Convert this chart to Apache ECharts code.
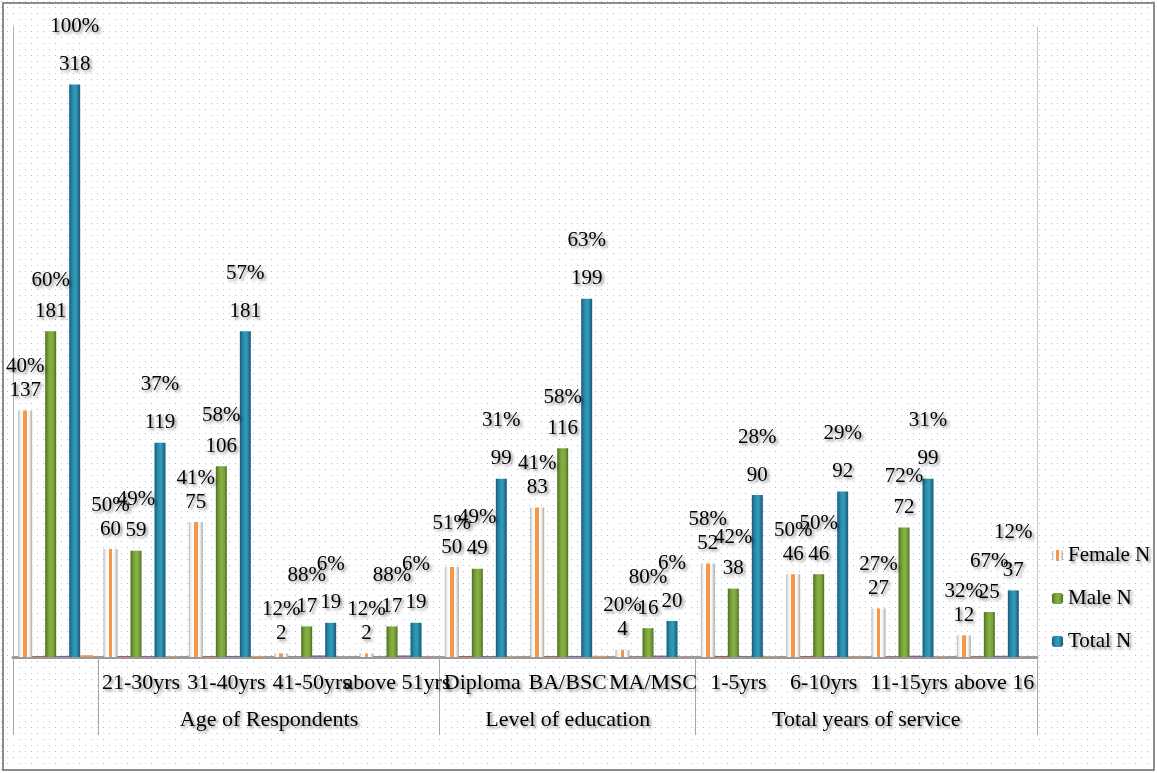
<!DOCTYPE html>
<html>
<head>
<meta charset="utf-8">
<title>Respondents by age, education and service</title>
<script src="https://cdn.jsdelivr.net/npm/echarts@6/dist/echarts.min.js"></script>
<style>
  html, body { margin: 0; padding: 0; background: #ffffff; }
  #chart { width: 1157px; height: 773px; }
</style>
</head>
<body>
<div id="chart"></div>
<script>
// Category labels (first column is the overall total)
const categories = ['', '21-30yrs', '31-40yrs', '41-50yrs', 'above 51yrs',
  'Diploma', 'BA/BSC', 'MA/MSC', '1-5yrs', '6-10yrs', '11-15yrs', 'above 16'];

// Counts per category
const femaleN = [137, 60, 75, 2, 2, 50, 83, 4, 52, 46, 27, 12];
const maleN   = [181, 59, 106, 17, 17, 49, 116, 16, 38, 46, 72, 25];
const totalN  = [318, 119, 181, 19, 19, 99, 199, 20, 90, 92, 99, 37];

// Shares in percent
const femalePct = [40, 50, 41, 12, 12, 51, 41, 20, 58, 50, 27, 32];
const malePct   = [60, 49, 58, 88, 88, 49, 58, 80, 42, 50, 72, 67];
const totalPct  = [100, 37, 57, 6, 6, 31, 63, 6, 28, 29, 31, 12];

// Grouping of the categories along the axis
const groupNames = ['Age of Respondents', 'Level of education', 'Total years of service'];
const groupStart = [1, 5, 8];
const groupEnd   = [5, 8, 12];

const FONT = 'Liberation Serif, Tinos, DejaVu Serif, serif';
const shadow = {
  textShadowColor: 'rgba(0,0,0,0.45)',
  textShadowBlur: 3,
  textShadowOffsetX: 2,
  textShadowOffsetY: 2
};

// dotted backdrop tile
function dotTile() {
  const c = document.createElement('canvas');
  c.width = 12; c.height = 12;
  const g = c.getContext('2d');
  g.fillStyle = '#ffffff';
  g.fillRect(0, 0, 12, 12);
  g.fillStyle = '#9db8de'; g.fillRect(1, 1, 1, 1); g.fillRect(7, 7, 1, 1);
  g.fillStyle = '#c9d8ee'; g.fillRect(7, 1, 1, 1); g.fillRect(1, 7, 1, 1);
  return c;
}

function hGrad(stops) {
  return new echarts.graphic.LinearGradient(0, 0, 1, 0,
    stops.map(s => ({ offset: s[0], color: s[1] })));
}

const femaleFill = hGrad([[0, '#b4b4b4'], [0.14, '#eeeeee'], [0.3, '#ffffff'],
  [0.37, '#ffffff'], [0.38, '#f79646'], [0.62, '#f79646'], [0.63, '#ffffff'],
  [0.8, '#f2f2f2'], [1, '#a6a6a6']]);
const maleFill = hGrad([[0, '#4f6e23'], [0.3, '#78a137'], [0.55, '#88b243'],
  [0.8, '#739c33'], [1, '#4c6a22']]);
const totalFill = hGrad([[0, '#176079'], [0.35, '#2b8fb2'], [0.6, '#319bbb'],
  [1, '#165a70']]);

function textStyle(extra) {
  return Object.assign({ fontFamily: FONT, fontSize: 21, color: '#000' }, shadow, extra || {});
}

function labelFor(pct, pLine) {
  return {
    show: true,
    position: 'top',
    distance: 10,
    formatter: p => '{p|' + pct[p.dataIndex] + '%}\n{v|' + p.value + '}',
    rich: {
      p: textStyle({ lineHeight: pLine }),
      v: textStyle({ lineHeight: 20 })
    }
  };
}

function shareSeries(name, pct, color) {
  return {
    name: name,
    type: 'bar',
    barWidth: 13,
    silent: true,
    data: pct.map(v => v / 100),
    itemStyle: { color: color },
    label: { show: false }
  };
}

const boundaries = [0].concat(groupStart).concat([groupEnd[groupEnd.length - 1]]);
const groupCenters = groupStart.map((s, i) => (s + groupEnd[i]) / 2);

const chart = echarts.init(document.getElementById('chart'), null, { renderer: 'canvas' });

chart.setOption({
  animation: false,
  backgroundColor: '#ffffff',
  textStyle: { fontFamily: FONT },
  graphic: [
    {
      type: 'rect', z: -100, silent: true,
      shape: { x: 0, y: 0, width: 1157, height: 773 },
      style: { fill: { image: dotTile(), repeat: 'repeat' } }
    },
    {
      type: 'rect', z: 100, silent: true,
      shape: { x: 3, y: 3, width: 1151, height: 767 },
      style: { fill: null, stroke: '#8c8c8c', lineWidth: 2 }
    }
  ],
  grid: { left: 13, right: 120, top: 27, bottom: 116 },
  legend: {
    orient: 'vertical',
    left: 1047,
    top: 540,
    itemGap: 22,
    itemWidth: 11,
    itemHeight: 11,
    data: ['Female N', 'Male N', 'Total N'],
    textStyle: textStyle()
  },
  xAxis: [
    {
      type: 'category',
      data: categories,
      axisLine: { show: true, lineStyle: { color: '#9a9a9a', width: 3 } },
      axisTick: { show: false },
      axisLabel: textStyle({ interval: 0, margin: 15, fontSize: 22 }),
      splitLine: { show: false }
    },
    {
      type: 'value',
      min: 0,
      max: categories.length,
      position: 'bottom',
      axisLine: { show: false },
      axisTick: {
        show: true,
        customValues: boundaries,
        length: 78,
        lineStyle: { color: '#a6a6a6', width: 1 }
      },
      axisLabel: textStyle({
        customValues: groupCenters,
        margin: 52,
        fontSize: 22,
        formatter: v => groupNames[groupCenters.indexOf(v)] || ''
      }),
      splitLine: { show: false }
    }
  ],
  yAxis: [
    {
      type: 'value', min: 0, max: 350,
      axisLine: { show: true, lineStyle: { color: '#b0b0b0', width: 1 } },
      axisTick: { show: false },
      axisLabel: { show: false },
      splitLine: { show: false }
    },
    {
      type: 'value', min: 0, max: 350, position: 'right',
      axisLine: { show: true, lineStyle: { color: '#c4c4c4', width: 1 } },
      axisTick: { show: false },
      axisLabel: { show: false },
      splitLine: { show: false }
    }
  ],
  series: [
    {
      name: 'Female N', type: 'bar', barWidth: 14, barGap: '0%',
      data: femaleN,
      itemStyle: { color: femaleFill },
      label: labelFor(femalePct, 28)
    },
    shareSeries('Female %', femalePct, '#c0504d'),
    {
      name: 'Male N', type: 'bar', barWidth: 11,
      data: maleN,
      itemStyle: { color: maleFill },
      label: labelFor(malePct, 42)
    },
    shareSeries('Male %', malePct, '#8064a2'),
    {
      name: 'Total N', type: 'bar', barWidth: 11,
      data: totalN,
      itemStyle: { color: totalFill },
      label: labelFor(totalPct, 56)
    },
    shareSeries('Total %', totalPct, '#f79646')
  ]
});
</script>
</body>
</html>
